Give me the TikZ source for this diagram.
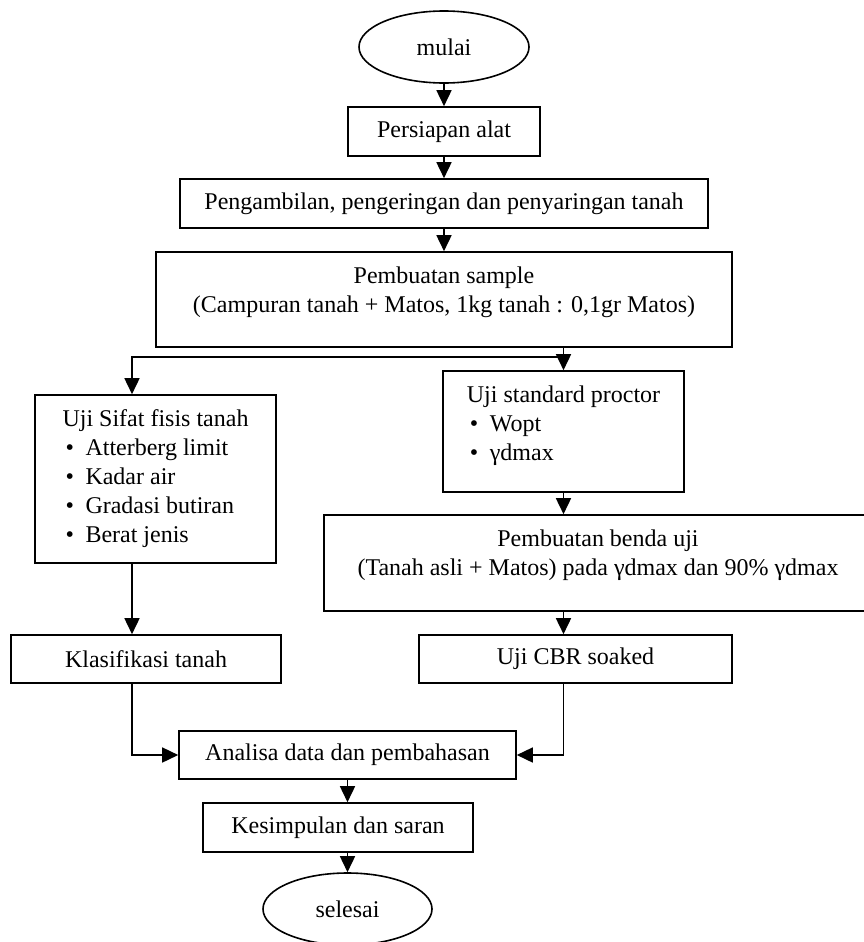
\documentclass[tikz,border=0pt]{standalone}
\usepackage{fontspec}
\setmainfont{Liberation Serif}
\usepackage{tikz}
\usetikzlibrary{arrows.meta,shapes}
\newcommand{\itm}{\hspace*{1.5pt}\makebox[10pt][l]{\textbullet}}
\tikzset{
  every picture/.style = {
    line width = 0.8pt,
    >={Triangle[length=8pt,width=7.5pt]},
    x = 0.5pt,
    y = -0.5pt
  }
  ,
  boxsize/.style 2 args = {
    minimum width = #1*0.5pt,
    minimum height = #2*0.5pt
  }
  , % process boxes
  proc/.style = {
    rectangle,
    draw,
    inner sep = 0pt,
    align = center,
    font = \fontsize{12}{14.5}\selectfont
  }
  , % start and end
  terminal/.style = {
    ellipse,
    draw,
    inner sep = 0pt,
    font = \fontsize{12}{14.5}\selectfont
  }
  , % boxes with a list
  listbox/.style = {
    proc,
    align = left
  }
}

\begin{document}
\begin{tikzpicture}
\useasboundingbox (0,0) rectangle (863,942);
\node[terminal, boxsize={170}{72}] at (444,47) (mulai) {mulai};
\node[proc, boxsize={192}{49}] at (444,131.5) (persiapan) {Persiapan alat};
\node[proc, boxsize={528}{49}] at (444,203.5) (ambil) {Pengambilan, pengeringan dan penyaringan tanah};
\node[proc, boxsize={576}{95}] at (444,299.5) (sample) {\strut Pembuatan sample\\\strut(Campuran tanah + Matos, 1kg tanah : 0,1gr Matos)\\[-6.7pt]\strut};
\node[listbox, boxsize={241}{168}] at (155.5,479) (sifat) {\strut Uji Sifat fisis tanah\\\itm Atterberg limit\\\itm Kadar air\\\itm Gradasi butiran\\\itm Berat jenis\strut};
\node[listbox, boxsize={241}{121}] at (563.5,431.5) (proctor) {\strut Uji standard proctor\\\itm Wopt\\\itm γdmax\strut\\[-9pt]\strut};
\node[proc, boxsize={548}{96}] at (598,563) (benda) {\strut Pembuatan benda uji\\\strut(Tanah asli + Matos) pada γdmax dan 90\% γdmax\\[-6.7pt]\strut};
\node[proc, boxsize={270}{48}] at (146,659) (klas) {Klasifikasi tanah};
\node[proc, boxsize={313}{48}] at (575.5,659) (cbr) {Uji CBR soaked};
\node[proc, boxsize={337}{48}] at (347.5,755) (analisa) {Analisa data dan pembahasan};
\node[proc, boxsize={270}{49}] at (338,827.5) (simpul) {Kesimpulan dan saran};
\node[terminal, boxsize={169}{72}] at (347.5,909) (selesai) {selesai};
\coordinate (split) at (563.5,357);
\coordinate (lane) at (132,357);
\path (mulai) edge[->] (persiapan);
\path (persiapan) edge[->] (ambil);
\path (ambil) edge[->] (sample);
\draw[->] (sample.south -| split) -- (proctor.north);
\draw[->] (split) -- (lane) -- (lane |- sifat.north);
\draw[->] (lane |- sifat.south) -- (lane |- klas.north);
\draw[->] (proctor.south) -- (proctor.south |- benda.north);
\draw[->] (split |- benda.south) -- (split |- cbr.north);
\draw[->] (lane |- klas.south) |- (analisa.west);
\draw[->] (split |- cbr.south) |- (analisa.east);
\draw[->] (analisa.south) -- (analisa.south |- simpul.north);
\draw[->] (analisa.south |- simpul.south) -- (selesai.north);
\end{tikzpicture}
\end{document}
